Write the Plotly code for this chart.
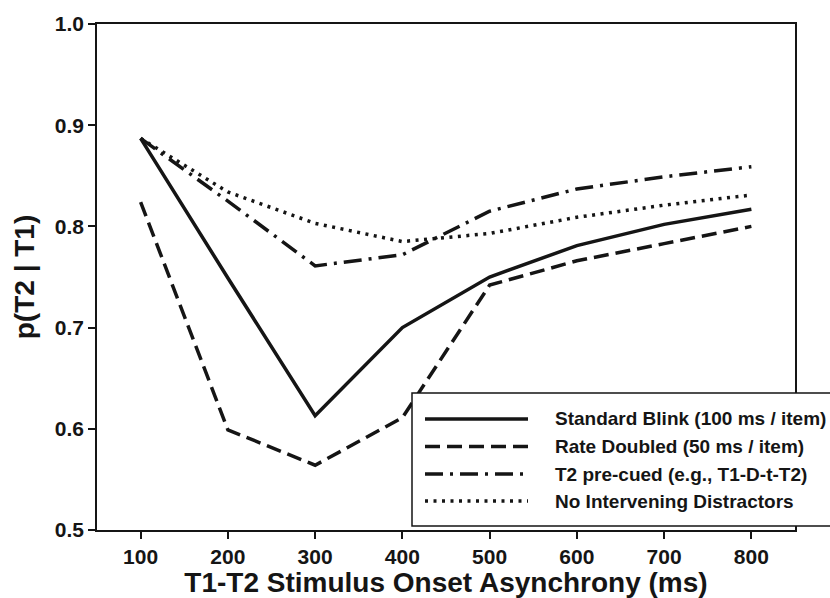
import plotly.graph_objects as go

# Stimulus onset asynchrony (ms) between T1 and T2
soa = [100, 200, 300, 400, 500, 600, 700, 800]

# p(T2 | T1) for each condition
standard_blink = [0.887, 0.749, 0.613, 0.700, 0.750, 0.781, 0.802, 0.817]
rate_doubled = [0.824, 0.599, 0.564, 0.611, 0.742, 0.766, 0.783, 0.800]
t2_precued = [0.887, 0.825, 0.761, 0.772, 0.815, 0.837, 0.849, 0.859]
no_distractors = [0.887, 0.834, 0.803, 0.785, 0.793, 0.809, 0.821, 0.831]

series_names = [
    "Standard Blink (100 ms / item)",
    "Rate Doubled (50 ms / item)",
    "T2 pre-cued (e.g., T1-D-t-T2)",
    "No Intervening Distractors",
]
series_values = [standard_blink, rate_doubled, t2_precued, no_distractors]
series_dash = ["solid", "15px,7px", "18px,7px,3px,7px", "3px,5.5px"]

INK = "#151515"
FONT = "Liberation Sans, Arial, Helvetica, sans-serif"
LINE_W = 3.5

fig = go.Figure()
for name, vals, dash in zip(series_names, series_values, series_dash):
    fig.add_trace(go.Scatter(
        x=soa, y=vals, name=name, mode="lines",
        line=dict(color=INK, width=LINE_W, dash=dash),
        showlegend=False,
    ))

# Boxed key in the lower right, overlapping the plot frame
plot_l, plot_r, plot_t, plot_b = 97, 795, 24, 530
pw, ph = plot_r - plot_l, plot_b - plot_t


def px(x):
    return (x - plot_l) / pw


def py(y):
    return (plot_b - y) / ph


shapes = [dict(
    type="rect", xref="paper", yref="paper", layer="above",
    x0=px(412), x1=px(840), y0=py(526), y1=py(393),
    line=dict(color=INK, width=1.5), fillcolor="white",
)]
annotations = []
row_y = [419, 446.5, 474, 501]
for name, dash, ry in zip(series_names, series_dash, row_y):
    shapes.append(dict(
        type="line", xref="paper", yref="paper", layer="above",
        x0=px(425), x1=px(528), y0=py(ry), y1=py(ry),
        line=dict(color=INK, width=LINE_W, dash=dash),
    ))
    annotations.append(dict(
        xref="paper", yref="paper", x=px(553), y=py(ry),
        xanchor="left", yanchor="middle", showarrow=False,
        text=name, font=dict(family=FONT, size=19, color=INK, weight="bold"),
    ))

fig.update_layout(
    template="none",
    width=830, height=598,
    margin=dict(l=plot_l, r=830 - plot_r, t=plot_t, b=598 - plot_b, pad=0),
    paper_bgcolor="white", plot_bgcolor="white",
    font=dict(family=FONT, color=INK, weight="bold"),
    shapes=shapes, annotations=annotations,
    xaxis=dict(
        range=[50, 850], tickvals=soa, automargin=False,
        showgrid=False, zeroline=False,
        showline=True, linecolor=INK, linewidth=1.5, mirror=True,
        ticks="outside", ticklen=7, tickwidth=1.5, tickcolor=INK,
        tickfont=dict(family=FONT, size=21, color=INK, weight="bold"),
        title=dict(text="T1-T2 Stimulus Onset Asynchrony (ms)", standoff=9,
                   font=dict(family=FONT, size=28, color=INK, weight="bold")),
    ),
    yaxis=dict(
        range=[0.5, 1.0], tickvals=[0.5, 0.6, 0.7, 0.8, 0.9, 1.0],
        tickformat=".1f", automargin=False,
        showgrid=False, zeroline=False,
        showline=True, linecolor=INK, linewidth=1.5, mirror=True,
        ticks="outside", ticklen=7, tickwidth=1.5, tickcolor=INK,
        tickfont=dict(family=FONT, size=21, color=INK, weight="bold"),
        title=dict(text="p(T2 | T1)", standoff=12,
                   font=dict(family=FONT, size=28, color=INK, weight="bold")),
    ),
)

fig.write_html("out.html")
